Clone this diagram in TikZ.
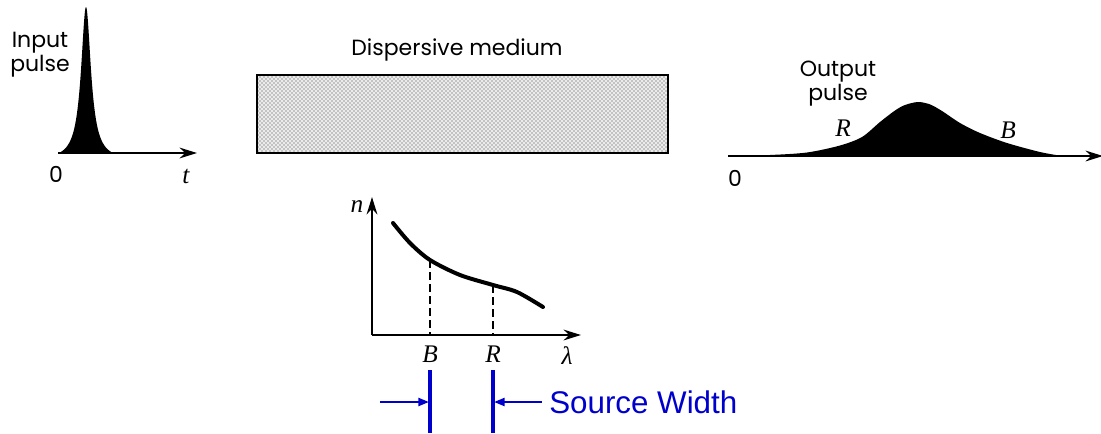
\documentclass[tikz,border=0pt]{standalone}
\usepackage{fontspec}
\setmainfont{Liberation Sans}
\newfontfamily\lserif{Liberation Serif}
\newfontfamily\geo{Poppins}
\usetikzlibrary{arrows.meta,patterns}
\definecolor{srcblue}{RGB}{0,0,204}
\begin{document}
\begin{tikzpicture}[x=0.75pt,y=-0.75pt,
  lbl/.style={font=\geo\fontsize{16.5}{18}\selectfont, align=center, inner sep=0},
  ital/.style={font=\fontsize{19}{22}\selectfont\lserif\itshape, inner sep=0},
  axisarrow/.style={line width=2pt, -{Stealth[length=13pt,width=8pt]}},
  mediumbox/.style={draw, line width=2.2pt, inner sep=0, preaction={fill=black!8}, pattern=crosshatch dots, pattern color=black!75},
  curve/.style={line width=3pt, line cap=round},
  guide/.style={line width=1.4pt, dash pattern=on 6pt off 3pt},
  marker/.style={draw=srcblue, line width=2.4pt},
  bluearrow/.style={draw=srcblue, line width=1.7pt, -{Triangle[length=8pt,width=6pt]}},
  bluetext/.style={font=\fontsize{23.5}{26}\selectfont, text=srcblue, inner sep=0, anchor=west}
]
\useasboundingbox (0,0) rectangle (1101,433);

% ---------- Input pulse ----------
\coordinate (in0) at (58,153);
\coordinate (inend) at (197,153);
\fill plot[domain=-27:27,samples=150] ({86+\x},{153-146*(1/(1+(\x/6)^2)-0.047)/0.953}) -- cycle;
\draw[axisarrow] (in0) -- (inend);
\node[lbl] (inlabel) at (40,55) {Input\\pulse};
\node[lbl] (inzero) at (56,174) {0};
\node[ital] (tlabel) at (186,176) {t};

% ---------- Dispersive medium ----------
\node[mediumbox, minimum width=308.25pt, minimum height=58.5pt] (medium) at (462.5,114) {};
\node[lbl] (mediumlabel) at (457,50) {Dispersive medium};

% ---------- Output pulse ----------
\coordinate (out0) at (728,156);
\coordinate (outend) at (1103,156);
\fill plot[smooth] coordinates {(735,156) (770,155) (807,152.5) (840,145.5) (862,137) (880,122) (895,110.5) (905,105) (918,102) (930,104.4) (942,111) (960,123) (980,133) (1007,143) (1040,152) (1062,156)} -- cycle;
\draw[axisarrow] (out0) -- (outend);
\node[lbl] (outlabel) at (838,84) {Output\\pulse};
\node[lbl] (outzero) at (735,178) {0};
\node[ital] (Rout) at (843,128) {R};
\node[ital] (Bout) at (1008,130) {B};

% ---------- n(lambda) graph ----------
\coordinate (org) at (372,335);
\coordinate (ntop) at (372,197);
\coordinate (lend) at (581,335);
\draw[axisarrow] (org) -- (ntop);
\draw[axisarrow] (org) -- (lend);
\draw[curve] plot[smooth] coordinates {(393,223) (410,243) (430,260) (460,275) (493,285) (517,292) (543,307)};
\coordinate (Bpt) at (430,260);
\coordinate (Rpt) at (493,285);
\coordinate (Bax) at (430,335);
\coordinate (Rax) at (493,335);
\draw[guide] (Bpt) -- (Bax);
\draw[guide] (Rpt) -- (Rax);
\node[ital] (nlabel) at (357,207) {n};
\node[ital] (Blabel) at (430,354) {B};
\node[ital] (Rlabel) at (493,354) {R};
\node[ital] (llabel) at (567,356) {λ};

% ---------- Source width ----------
\coordinate (bm1) at (430,370);
\coordinate (bm2) at (430,433);
\coordinate (rm1) at (493,370);
\coordinate (rm2) at (493,433);
\draw[marker] (bm1) -- (bm2);
\draw[marker] (rm1) -- (rm2);
\coordinate (la) at (380,402);
\coordinate (lb) at (429,402);
\coordinate (ra) at (542,402);
\coordinate (rb) at (494,402);
\draw[bluearrow] (la) -- (lb);
\draw[bluearrow] (ra) -- (rb);
\node[bluetext] (srcw) at (549,402) {Source Width};
\end{tikzpicture}
\end{document}
